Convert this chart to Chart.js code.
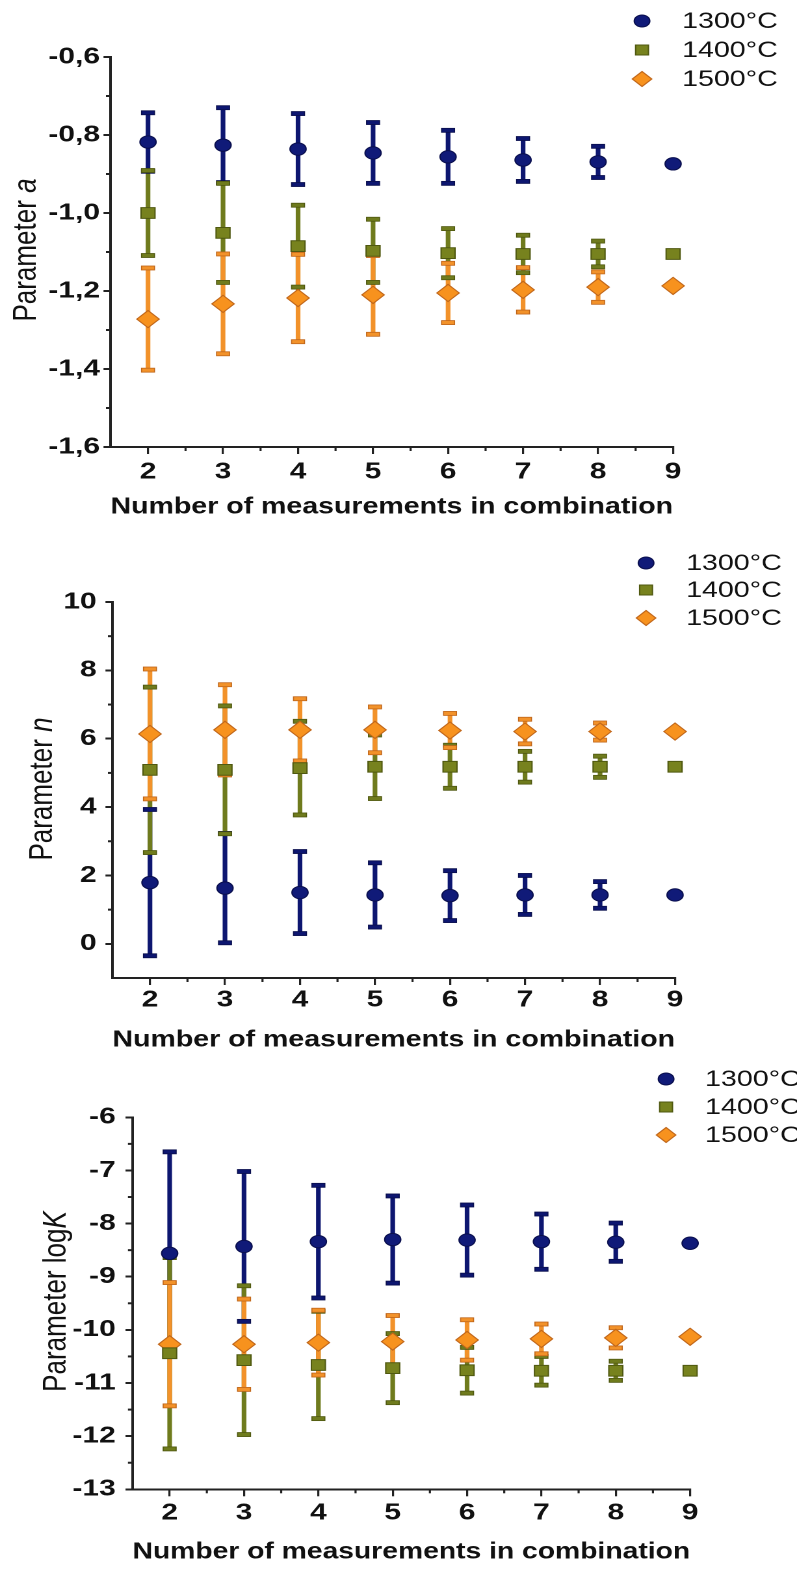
<!DOCTYPE html>
<html>
<head>
<meta charset="utf-8">
<script src="https://cdn.jsdelivr.net/npm/chart.js@4.4.1/dist/chart.umd.min.js"></script>
<style>
  html, body { margin: 0; padding: 0; background: #fff; }
  canvas { display: block; }
</style>
</head>
<body>
<canvas id="chartA" width="613" height="530" style="width:797px;height:530px"></canvas>
<canvas id="chartN" width="613" height="530" style="width:797px;height:530px"></canvas>
<canvas id="chartK" width="613" height="521" style="width:797px;height:521px"></canvas>
<script>
// x categories: number of measurements in a combination
const nComb = [2, 3, 4, 5, 6, 7, 8, 9];
const xTickLabels = ['2', '3', '4', '5', '6', '7', '8', '9'];
const seriesNames = ['1300°C', '1400°C', '1500°C'];
const xTitle = 'Number of measurements in combination';

// parameter a (mean and +/- error)
const a1300 = [-0.818, -0.826, -0.836, -0.846, -0.856, -0.864, -0.869, -0.874];
const a1300Err = [0.075, 0.096, 0.091, 0.078, 0.068, 0.055, 0.040, 0];
const a1400 = [-1.0, -1.051, -1.085, -1.097, -1.103, -1.105, -1.105, -1.105];
const a1400Err = [0.109, 0.127, 0.105, 0.081, 0.063, 0.048, 0.033, 0];
const a1500 = [-1.272, -1.233, -1.218, -1.21, -1.205, -1.197, -1.19, -1.187];
const a1500Err = [0.131, 0.128, 0.112, 0.101, 0.076, 0.057, 0.039, 0];
const aTicks = [-1.6, -1.4, -1.2, -1.0, -0.8, -0.6];
const aTickLabels = ['-1,6', '-1,4', '-1,2', '-1,0', '-0,8', '-0,6'];

// parameter n
const n1300 = [1.79, 1.63, 1.50, 1.43, 1.41, 1.43, 1.43, 1.43];
const n1300Err = [2.14, 1.6, 1.2, 0.94, 0.73, 0.57, 0.39, 0];
const n1400 = [5.09, 5.09, 5.14, 5.18, 5.18, 5.18, 5.18, 5.18];
const n1400Err = [2.42, 1.87, 1.37, 0.93, 0.63, 0.45, 0.31, 0];
const n1500 = [6.14, 6.26, 6.26, 6.26, 6.24, 6.21, 6.21, 6.21];
const n1500Err = [1.9, 1.32, 0.91, 0.67, 0.5, 0.36, 0.25, 0];
const nTicks = [0, 2, 4, 6, 8, 10];
const nTickLabels = ['0', '2', '4', '6', '8', '10'];

// parameter logK
const k1300 = [-8.56, -8.43, -8.34, -8.30, -8.31, -8.34, -8.35, -8.37];
const k1300Err = [1.91, 1.41, 1.06, 0.82, 0.66, 0.52, 0.36, 0];
const k1400 = [-10.44, -10.57, -10.66, -10.72, -10.76, -10.77, -10.77, -10.77];
const k1400Err = [1.8, 1.4, 1.01, 0.65, 0.43, 0.27, 0.18, 0];
const k1500 = [-10.27, -10.27, -10.24, -10.22, -10.19, -10.17, -10.15, -10.13];
const k1500Err = [1.16, 0.85, 0.61, 0.49, 0.38, 0.28, 0.19, 0];
const kTicks = [-13, -12, -11, -10, -9, -8, -7, -6];
const kTickLabels = ['-13', '-12', '-11', '-10', '-9', '-8', '-7', '-6'];

const FONT = "'Liberation Sans', Arial, sans-serif";
Chart.defaults.font.family = FONT;
Chart.defaults.color = '#111';

const styles = [
  { pointStyle: 'circle', radius: 6.2, fill: '#101a78', border: '#0a0f4d', bar: '#0d1670', legendR: 6 },
  { pointStyle: 'rect', radius: 7.6, fill: '#77821e', border: '#4f5810', bar: '#6f7b1d', legendR: 7 },
  { pointStyle: 'rectRot', radius: 8.6, fill: '#f7921e', border: '#c0661a', bar: '#f2922a', legendR: 7.5 }
];

// error bars: stems first, then caps, all before the markers
const errorBars = {
  id: 'errorBars',
  beforeDatasetsDraw(chart) {
    const { ctx, scales: { x, y } } = chart;
    const ds = chart.data.datasets;
    ctx.save();
    ds.forEach(d => {
      ctx.strokeStyle = d.barColor;
      ctx.lineWidth = 3.6;
      d.data.forEach((p, j) => {
        const e = d.errors[j];
        if (!e) return;
        const px = x.getPixelForValue(p.x);
        ctx.beginPath();
        ctx.moveTo(px, y.getPixelForValue(p.y + e));
        ctx.lineTo(px, y.getPixelForValue(p.y - e));
        ctx.stroke();
      });
    });
    ds.forEach(d => {
      ctx.fillStyle = d.barColor;
      ctx.strokeStyle = d.borderColor;
      ctx.lineWidth = 0.8;
      d.data.forEach((p, j) => {
        const e = d.errors[j];
        if (!e) return;
        const px = x.getPixelForValue(p.x);
        [p.y + e, p.y - e].forEach(v => {
          const py = y.getPixelForValue(v);
          ctx.fillRect(px - 5, py - 2, 10, 4);
          ctx.strokeRect(px - 5, py - 2, 10, 4);
        });
      });
    });
    ctx.restore();
  }
};

// small ticks halfway between the labelled ones
const minorTicks = {
  id: 'minorTicks',
  afterDraw(chart) {
    const { ctx, chartArea, scales: { x, y } } = chart;
    ctx.save();
    ctx.strokeStyle = '#222';
    ctx.lineWidth = 1.6;
    for (let i = 0; i < x.ticks.length - 1; i++) {
      const px = x.getPixelForValue((x.ticks[i].value + x.ticks[i + 1].value) / 2);
      ctx.beginPath(); ctx.moveTo(px, chartArea.bottom); ctx.lineTo(px, chartArea.bottom + 4); ctx.stroke();
    }
    ctx.lineWidth = 2;
    for (let i = 0; i < y.ticks.length - 1; i++) {
      const py = y.getPixelForValue((y.ticks[i].value + y.ticks[i + 1].value) / 2);
      ctx.beginPath(); ctx.moveTo(chartArea.left, py); ctx.lineTo(chartArea.left - 3.5, py); ctx.stroke();
    }
    ctx.restore();
  }
};

// rotated y title with an italic symbol
const yTitle = {
  id: 'yTitle',
  afterDraw(chart, args, opts) {
    const { ctx } = chart;
    const reg = "26px " + FONT, ital = "italic 26px " + FONT;
    ctx.save();
    ctx.translate(opts.x, opts.y);
    ctx.scale(0.95, 1);
    ctx.rotate(-Math.PI / 2);
    ctx.fillStyle = '#111';
    ctx.textBaseline = 'middle';
    ctx.textAlign = 'left';
    ctx.font = reg; const w1 = ctx.measureText(opts.plain).width;
    ctx.font = ital; const w2 = ctx.measureText(opts.italic).width;
    const sx = -(w1 + w2) / 2;
    ctx.font = reg; ctx.fillText(opts.plain, sx, 0);
    ctx.font = ital; ctx.fillText(opts.italic, sx + w1, 0);
    ctx.restore();
  }
};

function drawSymbol(ctx, style, r, x, y) {
  ctx.beginPath();
  if (style === 'circle') ctx.arc(x, y, r, 0, Math.PI * 2);
  else if (style === 'rect') { const s = r * Math.SQRT1_2; ctx.rect(x - s, y - s, 2 * s, 2 * s); }
  else { ctx.moveTo(x - r, y); ctx.lineTo(x, y - r); ctx.lineTo(x + r, y); ctx.lineTo(x, y + r); ctx.closePath(); }
  ctx.fill(); ctx.stroke();
}

const symLegend = {
  id: 'symLegend',
  afterDraw(chart, args, opts) {
    const { ctx } = chart;
    ctx.save();
    chart.data.datasets.forEach((d, i) => {
      const y = opts.rows[i];
      ctx.fillStyle = d.backgroundColor;
      ctx.strokeStyle = d.borderColor;
      ctx.lineWidth = 1;
      drawSymbol(ctx, d.pointStyle, d.legendR, opts.symX, y);
      ctx.fillStyle = '#111';
      ctx.font = "22px " + FONT;
      ctx.textBaseline = 'middle';
      ctx.textAlign = 'left';
      ctx.fillText(d.label, opts.textX, y + 1);
    });
    ctx.restore();
  }
};

function makePanel(id, series, errs, ticks, tickLabels, yMin, yMax, geo, title) {
  const W = 613;
  const datasets = series.map((vals, i) => ({
    label: seriesNames[i],
    data: nComb.map((n, j) => ({ x: n, y: vals[j] })),
    errors: errs[i],
    pointStyle: styles[i].pointStyle,
    pointRadius: styles[i].radius,
    backgroundColor: styles[i].fill,
    borderColor: styles[i].border,
    borderWidth: 1,
    barColor: styles[i].bar,
    legendR: styles[i].legendR,
    showLine: false,
    clip: false
  }));
  return new Chart(document.getElementById(id), {
    type: 'scatter',
    data: { datasets },
    plugins: [errorBars, minorTicks, yTitle, symLegend],
    options: {
      responsive: false,
      devicePixelRatio: 2,
      animation: false,
      events: [],
      layout: { padding: { left: 0, right: W - geo.right, top: geo.top, bottom: geo.pb } },
      plugins: {
        legend: { display: false },
        tooltip: { enabled: false },
        yTitle: { x: geo.titleX, y: geo.titleY, plain: title[0], italic: title[1] },
        symLegend: { symX: geo.symX, textX: geo.textX, rows: geo.rows }
      },
      scales: {
        x: {
          type: 'linear', min: 1.5, max: 9,
          afterBuildTicks: s => { s.ticks = nComb.map(v => ({ value: v })); },
          afterFit: s => { s.height = geo.xAxisH; },
          ticks: {
            autoSkip: false, maxRotation: 0, padding: geo.xPad, color: '#111',
            font: { size: 23, weight: 'bold' },
            callback: (v, i) => xTickLabels[i]
          },
          grid: { drawOnChartArea: false, drawTicks: true, tickLength: 7, color: '#222', lineWidth: 1.6 },
          border: { display: true, color: '#222', width: 2 },
          title: { display: true, text: xTitle, color: '#111', font: { size: 23, weight: 'bold' }, padding: 0 }
        },
        y: {
          type: 'linear', min: yMin, max: yMax,
          afterBuildTicks: s => { s.ticks = ticks.map(v => ({ value: v })); },
          afterFit: s => { s.width = geo.left; },
          ticks: {
            autoSkip: false, padding: geo.yPad, color: '#111',
            font: { size: 23, weight: 'bold' },
            callback: (v, i) => tickLabels[i]
          },
          grid: { drawOnChartArea: false, drawTicks: true, tickLength: 5.4, color: '#222', lineWidth: 2 },
          border: { display: true, color: '#222', width: 2 }
        }
      }
    }
  });
}

makePanel('chartA', [a1300, a1400, a1500], [a1300Err, a1400Err, a1500Err], aTicks, aTickLabels, -1.6, -0.6,
  { left: 85, right: 517.7, top: 57, pb: 9.2, xAxisH: 73.8, xPad: 4.2, yPad: 2.7,
    titleX: 20.8, titleY: 250, symX: 493.8, textX: 524.6, rows: [21, 50, 79] },
  ['Parameter ', 'a']);

makePanel('chartN', [n1300, n1400, n1500], [n1300Err, n1400Err, n1500Err], nTicks, nTickLabels, -1, 10,
  { left: 86.5, right: 519.2, top: 72, pb: 6.2, xAxisH: 75.8, xPad: 1.2, yPad: 6.8,
    titleX: 33, titleY: 259, symX: 496.9, textX: 527.7, rows: [33, 60, 88] },
  ['Parameter ', 'n']);

makePanel('chartK', [k1300, k1400, k1500], [k1300Err, k1400Err, k1500Err], kTicks, kTickLabels, -13, -6,
  { left: 101.9, right: 530.8, top: 57.3, pb: 15.2, xAxisH: 76.5, xPad: 3.2, yPad: 7.5,
    titleX: 43.8, titleY: 241.5, symX: 512.3, textX: 542.3, rows: [19, 47, 75] },
  ['Parameter log', 'K']);
</script>
</body>
</html>
